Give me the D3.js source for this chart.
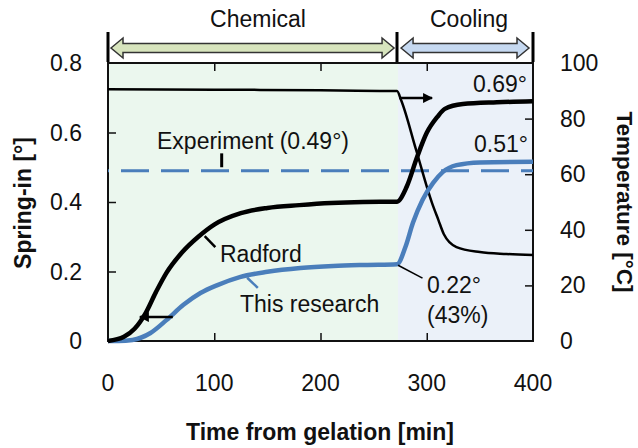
<!DOCTYPE html>
<meta charset="utf-8">
<style>
  body { margin: 0; background: #fff; }
  text { font-family: Arial, "Liberation Sans", sans-serif; fill: #111; }
</style>
<script src="https://cdnjs.cloudflare.com/ajax/libs/d3/7.8.5/d3.min.js"></script>

<svg id="chart" width="638" height="448"></svg>

<script>

// Radford spring-in [deg] vs time from gelation [min]
const radfordTime = [0, 15, 25, 35, 45, 55, 70, 85, 100, 125, 150, 180, 210, 240, 272, 281, 291, 300, 310, 317, 334, 366, 400];
const radfordSpring = [0, 0.012, 0.035, 0.078, 0.140, 0.196, 0.256, 0.300, 0.335, 0.368, 0.383, 0.391, 0.397, 0.400, 0.401, 0.443, 0.530, 0.599, 0.645, 0.668, 0.682, 0.687, 0.69];

// This research
const researchTime = [0, 10, 23, 40, 55, 71, 87, 103, 124, 150, 181, 212, 244, 272, 280, 287, 296, 306, 315, 328, 350, 400];
const researchSpring = [0, 0, 0.003, 0.023, 0.060, 0.104, 0.138, 0.161, 0.184, 0.199, 0.210, 0.216, 0.219, 0.221, 0.271, 0.340, 0.406, 0.455, 0.486, 0.506, 0.514, 0.516];

// Temperature [C] (right axis)
const tempTime = [0, 100, 200, 272, 276, 290, 305, 311, 316, 328, 350, 375, 400];
const tempValue = [90.6, 90.4, 90.2, 89.9, 86.5, 68.7, 49.6, 43.5, 38.5, 33.8, 32, 31.3, 30.9];

const experiment = 0.49;
const phaseEnd = 273;   // chemical -> cooling
const phases = ["Chemical", "Cooling"];

const xTicks = [0, 100, 200, 300, 400];
const yTicks = [0, 0.2, 0.4, 0.6, 0.8];
const tTicks = [0, 20, 40, 60, 80, 100];

const svg = d3.select("#chart");
const mLeft = 108, mRight = 533, mTop = 63, mBottom = 341;

const x = d3.scaleLinear().domain([0, 400]).range([mLeft, mRight]);
const y = d3.scaleLinear().domain([0, 0.8]).range([mBottom, mTop]);
const yT = d3.scaleLinear().domain([0, 100]).range([mBottom, mTop]);

const blue = "#4a7ebb";

// phase backgrounds
svg.append("rect").attr("x", x(0)).attr("y", mTop)
  .attr("width", x(phaseEnd) - x(0)).attr("height", mBottom - mTop).attr("fill", "#ebf7ee");
svg.append("rect").attr("x", x(phaseEnd)).attr("y", mTop)
  .attr("width", x(400) - x(phaseEnd)).attr("height", mBottom - mTop).attr("fill", "#ebf1f9");

// axes with inward ticks
const fmt = d => d === 0 ? "0" : d3.format(".1f")(d);
svg.append("g").attr("transform", `translate(0,${mBottom})`)
  .call(d3.axisTop(x).tickValues(xTicks.slice(1, -1)).tickSize(8).tickFormat(""));
svg.append("g").attr("transform", `translate(0,${mTop})`)
  .call(d3.axisBottom(x).tickValues(xTicks.slice(1, -1)).tickSize(8).tickFormat(""));
svg.append("g").attr("transform", `translate(${mLeft},0)`)
  .call(d3.axisRight(y).tickValues(yTicks.slice(1, -1)).tickSize(8).tickFormat(""));
svg.append("g").attr("transform", `translate(${mRight},0)`)
  .call(d3.axisLeft(yT).tickValues(tTicks.slice(1, -1)).tickSize(8).tickFormat(""));
svg.selectAll(".domain").remove();
svg.selectAll(".tick line").attr("stroke", "#111").attr("stroke-width", 1.5);

svg.append("rect").attr("x", mLeft).attr("y", mTop)
  .attr("width", mRight - mLeft).attr("height", mBottom - mTop)
  .attr("fill", "none").attr("stroke", "#111").attr("stroke-width", 2);

// tick labels
svg.append("g").selectAll("text").data(xTicks).join("text")
  .attr("x", d => x(d)).attr("y", 391).attr("text-anchor", "middle")
  .style("font-size", "23px").text(d => d);
svg.append("g").selectAll("text").data(yTicks).join("text")
  .attr("x", 82).attr("y", d => y(d)).attr("dy", "0.35em").attr("text-anchor", "end")
  .style("font-size", "23px").text(fmt);
svg.append("g").selectAll("text").data(tTicks).join("text")
  .attr("x", 560).attr("y", d => yT(d)).attr("dy", "0.35em")
  .style("font-size", "23px").text(d => d);

// axis titles
svg.append("text").attr("x", 320).attr("y", 440).attr("text-anchor", "middle")
  .style("font-size", "23px").style("font-weight", "bold").text("Time from gelation [min]");
svg.append("text").attr("transform", "translate(31,203) rotate(-90)").attr("text-anchor", "middle")
  .style("font-size", "23px").style("font-weight", "bold").text("Spring-in [°]");
svg.append("text").attr("transform", "translate(617,202) rotate(90)").attr("text-anchor", "middle")
  .style("font-size", "22.5px").style("font-weight", "bold").text("Temperature [°C]");

// experiment dashed line
svg.append("line").attr("x1", x(0)).attr("x2", x(400)).attr("y1", y(experiment)).attr("y2", y(experiment))
  .attr("stroke", blue).attr("stroke-width", 3).attr("stroke-dasharray", "28,12").attr("stroke-dashoffset", 27);

// curves
const line = d3.line().curve(d3.curveMonotoneX);
svg.append("path")
  .attr("d", line(tempTime.map((t, i) => [x(t), yT(tempValue[i])])))
  .attr("fill", "none").attr("stroke", "#000").attr("stroke-width", 2.5);
svg.append("path")
  .attr("d", line(researchTime.map((t, i) => [x(t), y(researchSpring[i])])))
  .attr("fill", "none").attr("stroke", blue).attr("stroke-width", 4.5);
svg.append("path")
  .attr("d", line(radfordTime.map((t, i) => [x(t), y(radfordSpring[i])])))
  .attr("fill", "none").attr("stroke", "#000").attr("stroke-width", 4.5);

// arrow marker
svg.append("defs").append("marker").attr("id", "head")
  .attr("viewBox", "0 0 10 10").attr("refX", 9).attr("refY", 5)
  .attr("markerWidth", 4).attr("markerHeight", 4).attr("orient", "auto")
  .attr("markerUnits", "strokeWidth")
  .append("path").attr("d", "M0,0 L10,5 L0,10 Z").attr("fill", "#000");

// which axis arrows
svg.append("line").attr("x1", x(274)).attr("x2", x(305)).attr("y1", yT(87.4)).attr("y2", yT(87.4))
  .attr("stroke", "#000").attr("stroke-width", 2.5).attr("marker-end", "url(#head)");
svg.append("line").attr("x1", x(61)).attr("x2", x(30)).attr("y1", y(0.069)).attr("y2", y(0.069))
  .attr("stroke", "#000").attr("stroke-width", 2.5).attr("marker-end", "url(#head)");

// leaders
svg.append("line").attr("x1", x(91)).attr("y1", y(0.302)).attr("x2", x(101)).attr("y2", y(0.27))
  .attr("stroke", "#000").attr("stroke-width", 2.5);
svg.append("line").attr("x1", x(131)).attr("y1", y(0.182)).attr("x2", x(141)).attr("y2", y(0.153))
  .attr("stroke", blue).attr("stroke-width", 2.5);
svg.append("line").attr("x1", x(107)).attr("y1", y(0.54)).attr("x2", x(107)).attr("y2", y(0.50))
  .attr("stroke", "#000").attr("stroke-width", 3);
svg.append("line").attr("x1", x(273)).attr("y1", y(0.218)).attr("x2", x(296)).attr("y2", y(0.181))
  .attr("stroke", "#000").attr("stroke-width", 1.5);

// annotations
const ann = [
  { tx: 157, ty: 149, s: "Experiment (0.49°)" },
  { tx: 220, ty: 262, s: "Radford" },
  { tx: 240, ty: 312, s: "This research" },
  { tx: 527, ty: 92, s: "0.69°", end: true },
  { tx: 528, ty: 152, s: "0.51°", end: true },
  { tx: 427, ty: 293, s: "0.22°" },
  { tx: 427, ty: 323, s: "(43%)" }
];
svg.append("g").selectAll("text").data(ann).join("text")
  .attr("x", d => d.tx).attr("y", d => d.ty)
  .attr("text-anchor", d => d.end ? "end" : "start")
  .style("font-size", "23px").text(d => d.s);

// phase brackets on top
const cy = 48, h = 4.5, H = 10, L = 12;
function dblArrow(x1, x2) {
  return `M${x1},${cy} L${x1 + L},${cy - H} L${x1 + L},${cy - h} L${x2 - L},${cy - h} L${x2 - L},${cy - H} ` +
    `L${x2},${cy} L${x2 - L},${cy + H} L${x2 - L},${cy + h} L${x1 + L},${cy + h} L${x1 + L},${cy + H} Z`;
}
svg.append("path").attr("d", dblArrow(x(0) + 3, x(phaseEnd) - 4))
  .attr("fill", "#d7e4bd").attr("stroke", "#333").attr("stroke-width", 1.5);
svg.append("path").attr("d", dblArrow(x(phaseEnd) + 3, x(400) - 4))
  .attr("fill", "#c6d9f1").attr("stroke", "#333").attr("stroke-width", 1.5);
svg.append("g").selectAll("line").data([0, phaseEnd - 1, 400]).join("line")
  .attr("x1", d => x(d)).attr("x2", d => x(d)).attr("y1", 32).attr("y2", 62)
  .attr("stroke", "#000").attr("stroke-width", 3);
svg.append("g").selectAll("text").data(phases).join("text")
  .attr("x", (d, i) => i === 0 ? 258 : 469).attr("y", 27).attr("text-anchor", "middle")
  .style("font-size", "23px").text(d => d);

</script>
